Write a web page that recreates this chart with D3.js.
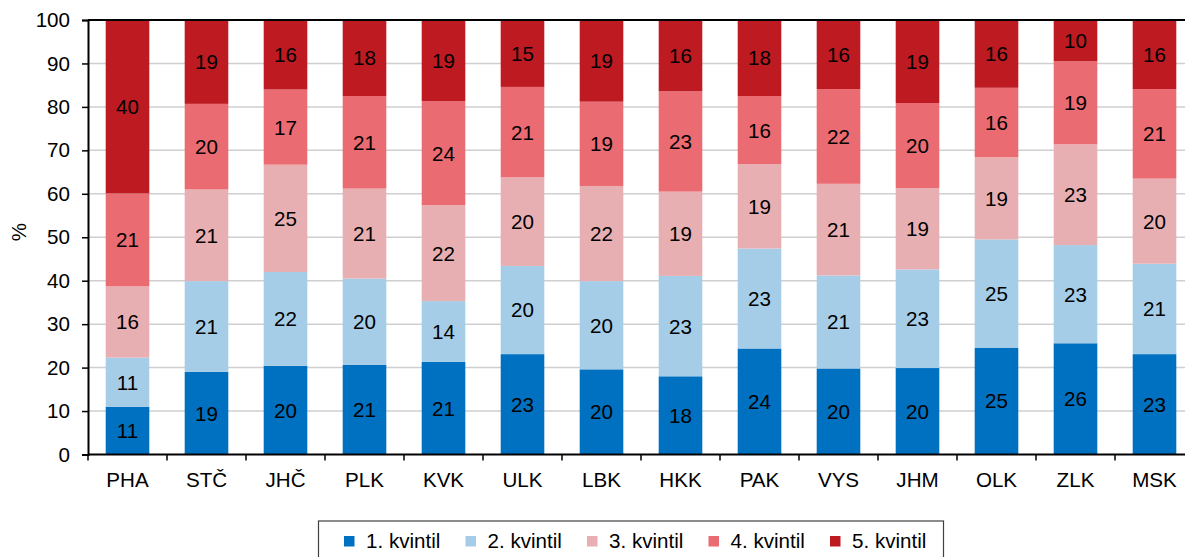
<!DOCTYPE html>
<html><head><meta charset="utf-8">
<script src="https://cdn.jsdelivr.net/npm/d3@7"></script>
<style>
body{margin:0;background:#fff;}
svg{display:block;font-family:"Liberation Sans",Arial,sans-serif;}
</style></head>
<body><svg id="c" width="1185" height="557"></svg>
<script>
const categories = ["PHA","STČ","JHČ","PLK","KVK","ULK","LBK","HKK","PAK","VYS","JHM","OLK","ZLK","MSK"];
const seriesNames = ["1. kvintil","2. kvintil","3. kvintil","4. kvintil","5. kvintil"];
const q1 = [11.0,19.0,20.4,20.6,21.3,23.1,19.6,18.0,24.4,19.8,19.9,24.6,25.6,23.1];
const q2 = [11.3,20.9,21.6,19.9,14.0,20.3,20.3,23.1,23.0,21.4,22.7,24.9,22.6,20.8];
const q3 = [16.4,21.1,24.7,20.7,22.1,20.4,21.9,19.4,19.4,21.1,18.7,18.9,23.2,19.6];
const q4 = [21.4,19.7,17.3,21.3,23.9,20.8,19.4,23.1,15.7,21.8,19.6,16.0,19.1,20.6];
const q5 = [39.9,19.3,16.0,17.5,18.7,15.4,18.8,16.4,17.5,15.9,19.1,15.6,9.5,15.9];
const yTicks = [0,10,20,30,40,50,60,70,80,90,100];
const colors = ["#0070c0","#a6cde8","#e8afb2","#ea6b72","#be1a22"];

(function(){
const FS = 20.6;
const FF = "'Liberation Sans',Arial,sans-serif";
const seriesVals = [q1,q2,q3,q4,q5];
const svg = d3.select("#c");
const pL = 88, pR = 1194, pT = 20, pB = 454.5;
const x = d3.scaleBand().domain(categories).range([pL,pR]).paddingInner(0.448).paddingOuter(0.224);
const y = d3.scaleLinear().domain([0,100]).range([pB,pT]);

const rows = categories.map((c,i)=>{const r={cat:c}; seriesNames.forEach((s,j)=>r[s]=seriesVals[j][i]); return r;});
const stacked = d3.stack().keys(seriesNames)(rows);

svg.append("g").selectAll("line").data(yTicks.filter(t=>t>0&&t<100)).join("line")
  .attr("x1",pL).attr("x2",1185).attr("y1",d=>y(d)).attr("y2",d=>y(d))
  .attr("stroke","#cfcfcf").attr("stroke-width",1.5);

const g = svg.append("g");
stacked.forEach((layer,j)=>{
  g.append("g").selectAll("rect").data(layer).join("rect")
   .attr("x",d=>x(d.data.cat)).attr("width",x.bandwidth())
   .attr("y",d=>y(d[1])).attr("height",d=>y(d[0])-y(d[1]))
   .attr("fill",colors[j]);
});
stacked.forEach((layer,j)=>{
  g.append("g").selectAll("text").data(layer).join("text")
   .attr("x",d=>x(d.data.cat)+x.bandwidth()/2)
   .attr("y",d=>(y(d[0])+y(d[1]))/2)
   .attr("dy","0.36em").attr("text-anchor","middle")
   .attr("font-size",FS).attr("fill","#000")
   .text(d=>Math.round(d[1]-d[0]));
});

svg.append("line").attr("x1",pL).attr("x2",1185).attr("y1",y(100)).attr("y2",y(100)).attr("stroke","#000").attr("stroke-width",2);

const ya = svg.append("g").attr("transform",`translate(${pL},0)`)
  .call(d3.axisLeft(y).tickValues(yTicks).tickSize(6).tickPadding(12).tickFormat(d3.format("d")));
ya.select(".domain").attr("stroke","#000").attr("stroke-width",2);
ya.selectAll(".tick line").attr("stroke","#000").attr("stroke-width",1.5);
ya.selectAll("text").attr("font-size",FS).attr("font-family",FF).attr("fill","#000");

const xa = svg.append("g").attr("transform",`translate(0,${pB})`)
  .call(d3.axisBottom(x).tickSize(0).tickPadding(18));
xa.select(".domain").attr("stroke","#000").attr("stroke-width",2).attr("d",`M${pL},0H${pR}`);
xa.selectAll("text").attr("font-size",FS).attr("font-family",FF).attr("fill","#000");
const step = x.step();
svg.append("g").selectAll("line").data(d3.range(categories.length+1)).join("line")
  .attr("x1",i=>pL+i*step).attr("x2",i=>pL+i*step)
  .attr("y1",pB).attr("y2",pB+6).attr("stroke","#000").attr("stroke-width",1.5);

svg.append("text").attr("transform","translate(19,232) rotate(-90)")
  .attr("text-anchor","middle").attr("dy","0.36em").attr("font-size",FS).text("%");

const lg = svg.append("g");
lg.append("rect").attr("x",318.5).attr("y",521).attr("width",625).attr("height",40)
  .attr("fill","#fff").attr("stroke","#404040").attr("stroke-width",1.2);
const items = lg.selectAll("g").data(seriesNames).join("g")
  .attr("transform",(d,i)=>`translate(${344+i*121.5},0)`);
items.append("rect").attr("x",0).attr("y",536).attr("width",10.5).attr("height",10.5).attr("fill",(d,i)=>colors[i]);
items.append("text").attr("x",22).attr("y",547.5).attr("font-size",FS).text(d=>d);
})();
</script></body></html>
